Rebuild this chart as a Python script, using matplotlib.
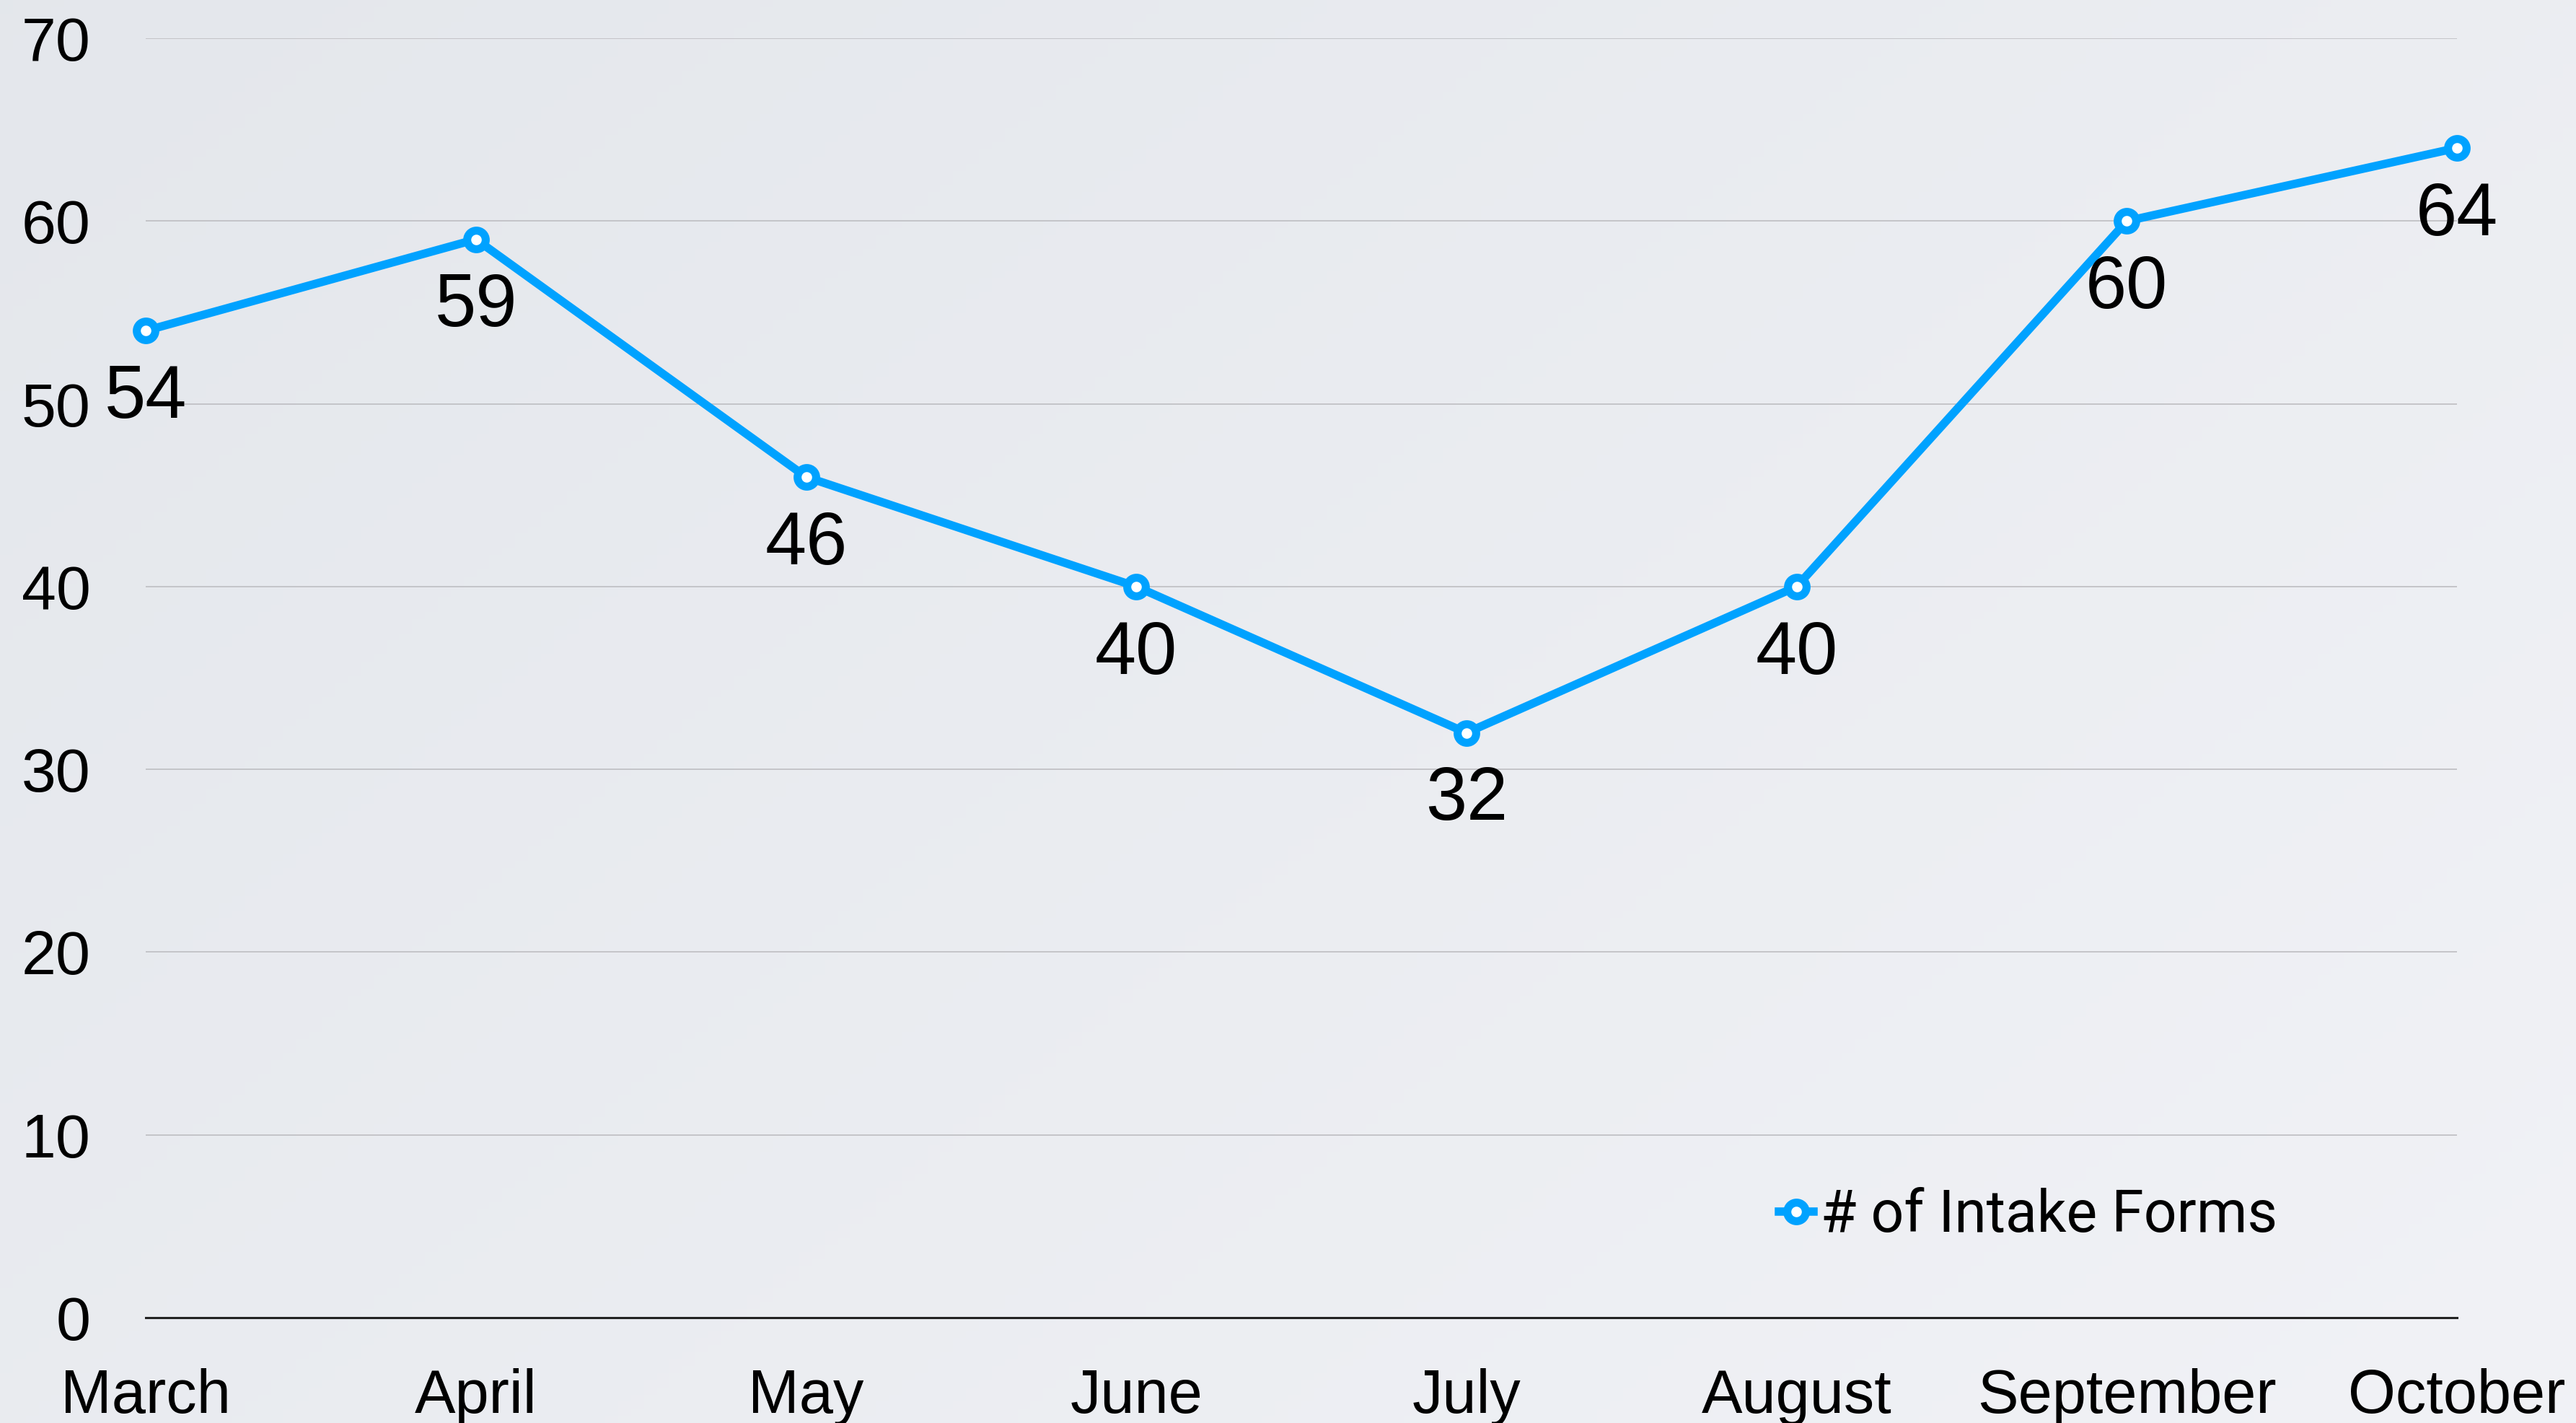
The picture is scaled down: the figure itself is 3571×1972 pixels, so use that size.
import numpy as np
import matplotlib
matplotlib.use('Agg')
import matplotlib.pyplot as plt

months = ['March', 'April', 'May', 'June', 'July', 'August', 'September', 'October']
intake_forms = [54, 59, 46, 40, 32, 40, 60, 64]
y_ticks = [0, 10, 20, 30, 40, 50, 60, 70]
series_name = '# of Intake Forms'

plt.rcParams['font.family'] = ['Liberation Sans', 'DejaVu Sans']
blue = '#00a2ff'

fig = plt.figure(figsize=(35.71, 19.72), dpi=100)

# soft background gradient
bg = fig.add_axes([0, 0, 1, 1], zorder=-10)
gx, gy = np.meshgrid(np.linspace(0, 1, 200), np.linspace(0, 1, 200))
t = (gx * 0.6 + gy * 0.4)
c0 = np.array([0.894, 0.906, 0.925])
c1 = np.array([0.945, 0.949, 0.965])
img = c0[None, None, :] * (1 - t[..., None]) + c1[None, None, :] * t[..., None]
bg.imshow(img, aspect='auto', extent=[0, 1, 0, 1], origin='upper')
bg.axis('off')

ax = fig.add_axes([0.0566, 0.074, 0.8972, 0.8991])
ax.patch.set_alpha(0)
x = np.arange(len(months))
ax.plot(x, intake_forms, color=blue, lw=8.3, marker='o', ms=18.5, mew=8,
        mfc='white', mec=blue, clip_on=False, zorder=5, label=series_name,
        solid_joinstyle='round')

for xi, v in zip(x, intake_forms):
    ax.annotate(str(v), (xi, v), xytext=(0, -87), textcoords='offset points',
                ha='center', va='baseline', fontsize=74, color='black', zorder=6)

ax.set_xlim(0, len(months) - 1)
ax.set_ylim(0, 70)
ax.set_yticks(y_ticks)
ax.set_xticks(x)
ax.set_xticklabels(months)
ax.grid(axis='y', color='#c4c4c8', lw=1.4)
ax.set_axisbelow(True)
for s in ['left', 'right', 'top']:
    ax.spines[s].set_visible(False)
ax.spines['bottom'].set_color('#222222')
ax.spines['bottom'].set_linewidth(2.2)
ax.spines['bottom'].set_zorder(4)
ax.tick_params(axis='both', length=0)
ax.tick_params(axis='y', labelsize=62, pad=55)
ax.tick_params(axis='x', labelsize=61, pad=50)

leg = ax.legend(loc='center left', bbox_to_anchor=(0.694, 0.0795), frameon=False,
                borderpad=0, handlelength=0.6, handletextpad=0.12,
                prop={'family': ['Roboto', 'DejaVu Sans'], 'size': 58})
for h in leg.legend_handles:
    h.set_markersize(18.5)
    h.set_markeredgewidth(8)
    h.set_linewidth(8.3)

fig.savefig('out.png', dpi=100)
